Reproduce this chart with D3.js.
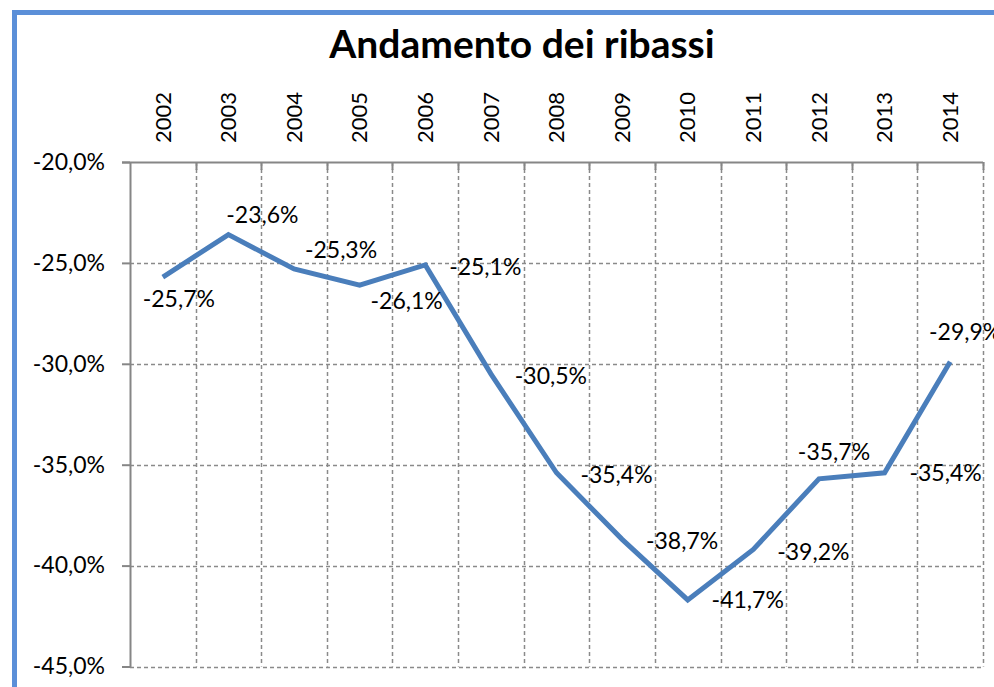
<!DOCTYPE html>
<html>
<head>
<meta charset="utf-8">
<script src="https://cdn.jsdelivr.net/npm/d3@7"></script>
<style>
  html, body { margin: 0; padding: 0; background: #fff; }
  svg { display: block; font-family: Lato, "Open Sans", sans-serif; }
</style>
</head>
<body>
<script>
// data
const years = ['2002', '2003', '2004', '2005', '2006', '2007', '2008', '2009', '2010', '2011', '2012', '2013', '2014'];
const ribassi = [-25.7, -23.6, -25.3, -26.1, -25.1, -30.5, -35.4, -38.7, -41.7, -39.2, -35.7, -35.4, -29.9];
const yTicks = [-20, -25, -30, -35, -40, -45];

// where each label sits relative to its point (Excel placed them by hand)
const labelOffsets = [
  [16, 22], [34, -20], [47, -19], [47, 16], [60, 2], [60, 2], [60, 2],
  [60, 2], [60, 0], [60, 2], [15, -27], [61, 0], [15, -30]
];

const svgWidth = 994;
const svgHeight = 687;
const margin = { top: 162, left: 130, right: 11, bottom: 20 };
const plotW = 983 - margin.left;
const plotH = 666.5 - margin.top;
const fontSize = 23;

const fmt = v => d3.format('.1f')(v).replace('.', ',').replace('\u2212', '-') + '%';

const svg = d3.select('body')
  .append('svg')
  .attr('width', svgWidth)
  .attr('height', svgHeight);

// chart border (runs off the right and bottom edges)
svg.append('rect')
  .attr('x', 14.5)
  .attr('y', 12.5)
  .attr('width', 1000)
  .attr('height', 700)
  .attr('fill', 'none')
  .attr('stroke', '#5b8fd8')
  .attr('stroke-width', 5);

svg.append('text')
  .attr('x', 522)
  .attr('y', 58)
  .attr('text-anchor', 'middle')
  .attr('font-size', 39)
  .attr('font-weight', 'bold')
  .attr('fill', '#000')
  .text('Andamento dei ribassi');

const xScale = d3.scaleBand().domain(years).range([0, plotW]);
const yScale = d3.scaleLinear().domain([-20, -45]).range([0, plotH]);

const chart = svg.append('g')
  .attr('transform', `translate(${margin.left}, ${margin.top})`);

// horizontal dashed grid
chart.append('g')
  .selectAll('line')
  .data(yTicks.slice(1))
  .enter().append('line')
  .attr('x1', 0)
  .attr('x2', plotW)
  .attr('y1', d => Math.round(yScale(d)) + 0.5)
  .attr('y2', d => Math.round(yScale(d)) + 0.5)
  .attr('stroke', '#8a8a8a')
  .attr('stroke-width', 1.5)
  .attr('stroke-dasharray', '4,3');

// vertical dashed grid on category boundaries
const bounds = years.slice(1).map(y => xScale(y)).concat([plotW]);
chart.append('g')
  .selectAll('line')
  .data(bounds)
  .enter().append('line')
  .attr('x1', d => Math.round(d) + 0.5)
  .attr('x2', d => Math.round(d) + 0.5)
  .attr('y1', 0)
  .attr('y2', plotH)
  .attr('stroke', '#8a8a8a')
  .attr('stroke-width', 1.5)
  .attr('stroke-dasharray', '4,3');

// top category axis
const xAxis = chart.append('g')
  .call(d3.axisTop(xScale).tickSize(0).tickSizeOuter(0).tickPadding(19));
xAxis.select('.domain')
  .attr('d', `M-8,0.5H${plotW}`)
  .attr('stroke', '#868686')
  .attr('stroke-width', 2);
xAxis.selectAll('text')
  .attr('font-size', 22)
  .attr('font-family', 'Lato, sans-serif')
  .attr('fill', '#000')
  .attr('text-anchor', 'start')
  .attr('dy', '0.35em')
  .attr('transform', 'rotate(-90)')
  .attr('x', 19)
  .attr('y', 0);

// tick marks where the category axis meets the grid
chart.append('g')
  .selectAll('line')
  .data(bounds)
  .enter().append('line')
  .attr('x1', d => Math.round(d) + 0.5)
  .attr('x2', d => Math.round(d) + 0.5)
  .attr('y1', 0)
  .attr('y2', 8)
  .attr('stroke', '#868686')
  .attr('stroke-width', 2);

// left value axis
const yAxis = chart.append('g')
  .call(d3.axisLeft(yScale).tickValues(yTicks).tickFormat(fmt).tickSize(8).tickSizeOuter(0).tickPadding(17));
yAxis.select('.domain')
  .attr('stroke', '#868686')
  .attr('stroke-width', 2);
yAxis.selectAll('.tick line')
  .attr('stroke', '#868686')
  .attr('stroke-width', 2);
yAxis.selectAll('text')
  .attr('font-size', fontSize)
  .attr('font-family', 'Lato, sans-serif')
  .attr('fill', '#000');

const cx = (d, i) => xScale(years[i]) + xScale.bandwidth() / 2;

chart.append('path')
  .datum(ribassi)
  .attr('fill', 'none')
  .attr('stroke', '#4a7ebb')
  .attr('stroke-width', 5)
  .attr('stroke-linejoin', 'miter')
  .attr('d', d3.line()
    .x(cx)
    .y(d => yScale(d)));

chart.append('g')
  .selectAll('text')
  .data(ribassi)
  .enter().append('text')
  .attr('x', (d, i) => cx(d, i) + labelOffsets[i][0])
  .attr('y', (d, i) => yScale(d) + labelOffsets[i][1])
  .attr('dy', '0.35em')
  .attr('text-anchor', 'middle')
  .attr('font-size', fontSize)
  .attr('fill', '#000')
  .text(fmt);
</script>
</body>
</html>
